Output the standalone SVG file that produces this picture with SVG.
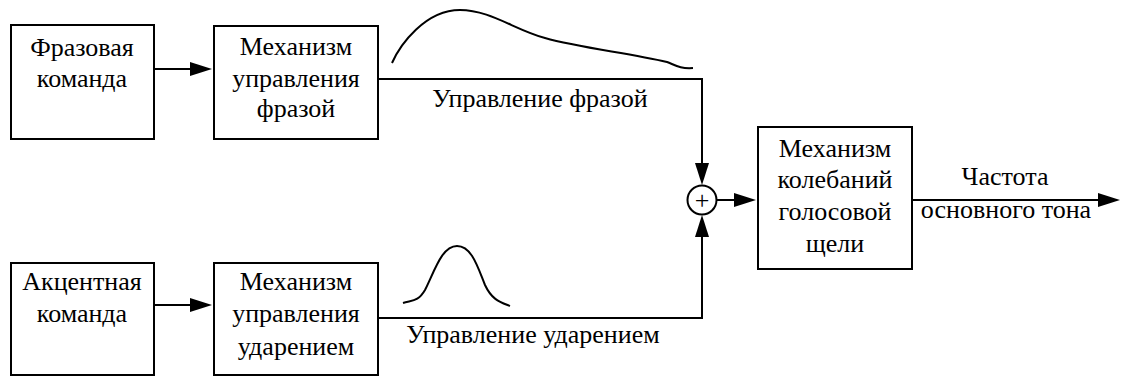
<svg xmlns="http://www.w3.org/2000/svg" width="1121" height="376" viewBox="0 0 1121 376" xml:lang="ru">
<rect width="1121" height="376" fill="#fff"/>
<g id="connectors">
<g fill="none" stroke="#000" stroke-width="2">
<line x1="154" y1="69" x2="192" y2="69"/>
<line x1="154" y1="305" x2="192" y2="305"/>
<polyline points="378,79 702,79 702,165"/>
<polyline points="378,318 702,318 702,235"/>
<line x1="717" y1="200" x2="736" y2="200"/>
<line x1="912" y1="200" x2="1100" y2="200"/>
<path d="M392,63 C400,45 425,10 460,10 C490,10 515,30 545,38 C580,48 630,53 667,62 C675,65 680,69 693,68"/>
<path d="M403,303 C412,300 418,302 425,290 C435,270 442,246 457,246 C472,246 478,268 485,285 C492,300 500,302 510,306"/>
</g>
<g fill="#000">
<polygon points="190,62 212,69 190,76"/>
<polygon points="190,298 212,305 190,312"/>
<polygon points="695,163 702,185 709,163"/>
<polygon points="695,237 702,215 709,237"/>
<polygon points="734,193 756,200 734,207"/>
<polygon points="1098,193 1120,200 1098,207"/>
</g>
</g>
<g id="connector-labels">
<text x="540" y="107" font-family="Liberation Serif" font-size="26" text-anchor="middle">Управление фразой</text>
<text x="533" y="343" font-family="Liberation Serif" font-size="26" text-anchor="middle">Управление ударением</text>
<text x="1005" y="185" font-family="Liberation Serif" font-size="26" text-anchor="middle">Частота</text>
<text x="1006" y="218" font-family="Liberation Serif" font-size="26" text-anchor="middle">основного тона</text>
</g>
<g id="phrase-command">
<rect x="11" y="25" width="143" height="114" fill="#fff" stroke="#000" stroke-width="2"/>
<text x="82" y="56" font-family="Liberation Serif" font-size="26" text-anchor="middle">Фразовая</text>
<text x="82" y="87" font-family="Liberation Serif" font-size="26" text-anchor="middle">команда</text>
</g>
<g id="phrase-mechanism">
<rect x="214" y="26" width="164" height="113" fill="#fff" stroke="#000" stroke-width="2"/>
<text x="296" y="55" font-family="Liberation Serif" font-size="26" text-anchor="middle">Механизм</text>
<text x="296" y="87" font-family="Liberation Serif" font-size="26" text-anchor="middle">управления</text>
<text x="296" y="117" font-family="Liberation Serif" font-size="26" text-anchor="middle">фразой</text>
</g>
<g id="accent-command">
<rect x="11" y="263" width="143" height="112" fill="#fff" stroke="#000" stroke-width="2"/>
<text x="82" y="290" font-family="Liberation Serif" font-size="26" text-anchor="middle">Акцентная</text>
<text x="82" y="322" font-family="Liberation Serif" font-size="26" text-anchor="middle">команда</text>
</g>
<g id="accent-mechanism">
<rect x="214" y="263" width="164" height="112" fill="#fff" stroke="#000" stroke-width="2"/>
<text x="296" y="290" font-family="Liberation Serif" font-size="26" text-anchor="middle">Механизм</text>
<text x="296" y="322" font-family="Liberation Serif" font-size="26" text-anchor="middle">управления</text>
<text x="296" y="355" font-family="Liberation Serif" font-size="26" text-anchor="middle">ударением</text>
</g>
<g id="sum">
<circle cx="702" cy="200" r="14.5" fill="#fff" stroke="#000" stroke-width="2"/>
<text x="702" y="209" font-family="Liberation Serif" font-size="26" text-anchor="middle">+</text>
</g>
<g id="glottal-mechanism">
<rect x="758" y="127" width="154" height="142" fill="#fff" stroke="#000" stroke-width="2"/>
<text x="835" y="157" font-family="Liberation Serif" font-size="26" text-anchor="middle">Механизм</text>
<text x="835" y="188" font-family="Liberation Serif" font-size="26" text-anchor="middle">колебаний</text>
<text x="835" y="220" font-family="Liberation Serif" font-size="26" text-anchor="middle">голосовой</text>
<text x="835" y="252" font-family="Liberation Serif" font-size="26" text-anchor="middle">щели</text>
</g>
</svg>
